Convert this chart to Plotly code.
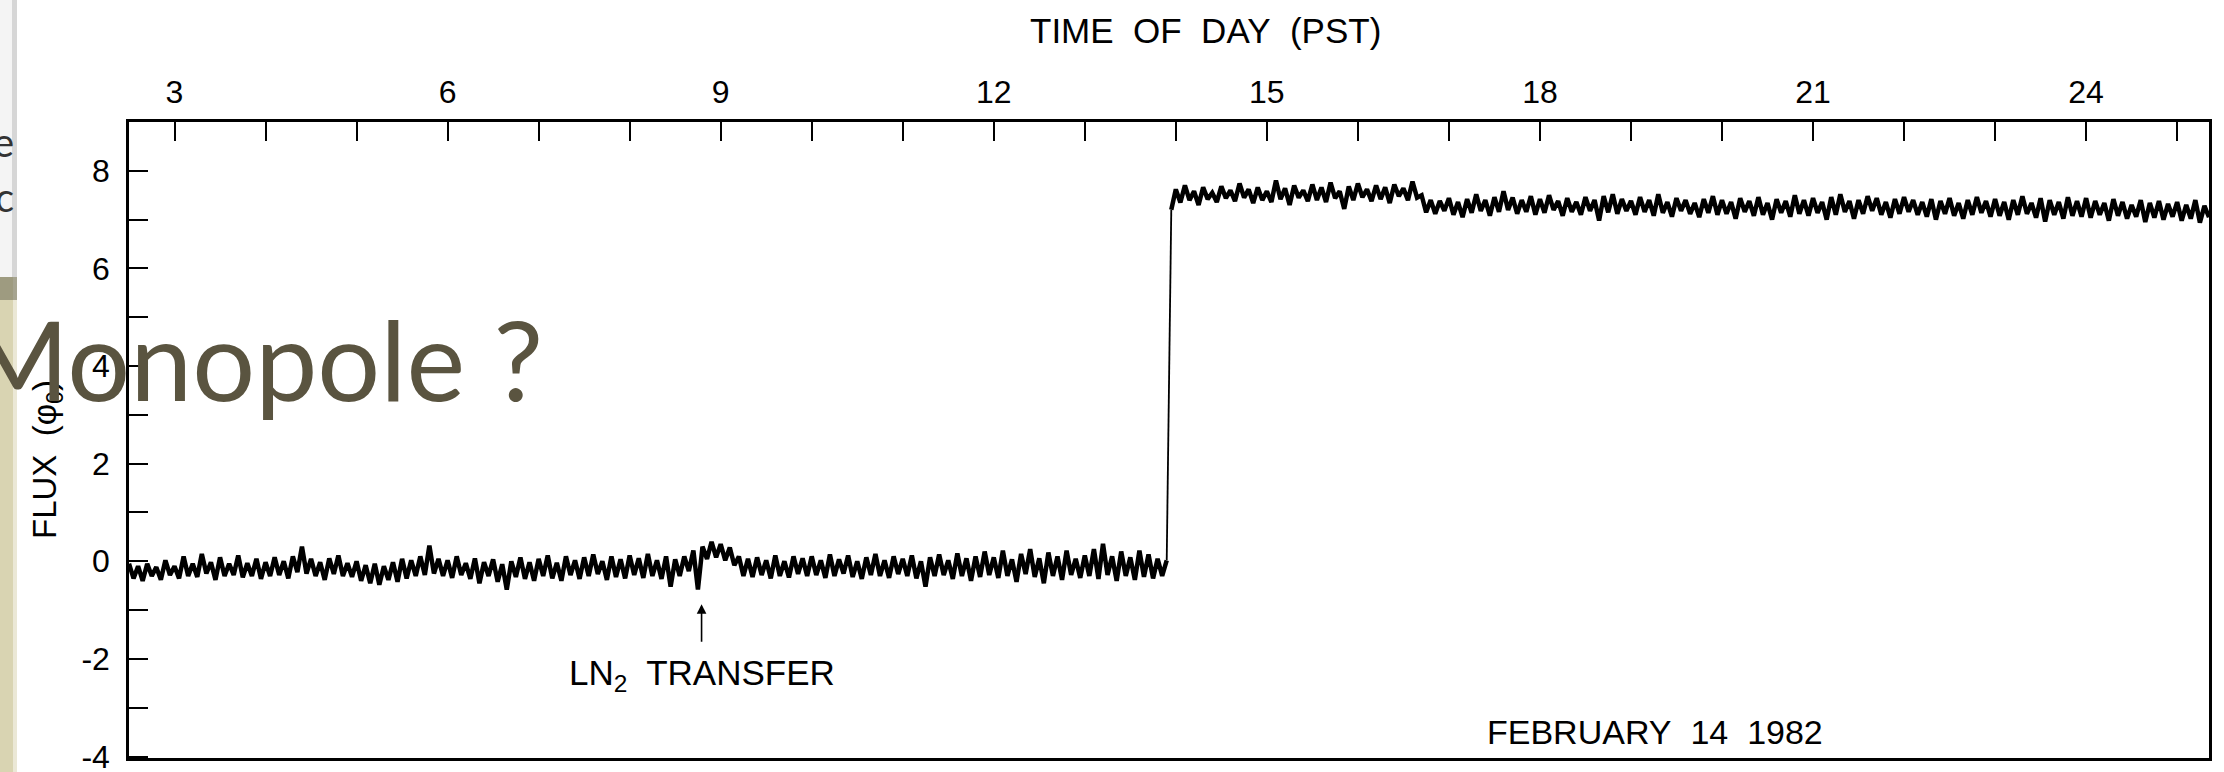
import plotly.graph_objects as go

# ---------------- data ----------------
# time grid (hours, PST) of the digitised trace, 0.05 h sampling
t_start_a, t_step, n_a = 2.50, 0.05, 229      # before the event
t_start_b, n_b = 13.95, 229                  # after the event
time_a = [round(t_start_a + i * t_step, 2) for i in range(n_a)]
time_b = [round(t_start_b + i * t_step, 2) for i in range(n_b)]

flux_a = [
    -0.05, -0.35, -0.10, -0.40, -0.05, -0.30, -0.12, -0.38, 0.02, -0.28,
    -0.10, -0.35, 0.10, -0.30, -0.05, -0.32, 0.15, -0.25, -0.02, -0.38, 0.08, -0.30, -0.05, -0.28, 0.12, -0.33, -0.04, -0.30, 0.05, -0.36,
    -0.02, -0.30, 0.08, -0.28, 0.00, -0.35, 0.10, -0.22, 0.30, -0.25, 0.05, -0.30, -0.02, -0.38, 0.06, -0.26, 0.12, -0.30, -0.04, -0.32,
    0.00, -0.40, -0.08, -0.45, -0.05, -0.48, -0.10, -0.38, -0.02, -0.42, 0.05, -0.35, 0.02, -0.30, 0.10, -0.28, 0.32, -0.25, 0.05, -0.30,
    0.02, -0.34, 0.10, -0.28, -0.04, -0.36, 0.06, -0.45, -0.02, -0.30, 0.04, -0.42, -0.06, -0.58, 0.00, -0.32, 0.08, -0.36, -0.02, -0.40,
    0.05, -0.30, 0.12, -0.35, -0.03, -0.40, 0.10, -0.28, 0.02, -0.36, 0.08, -0.30, 0.14, -0.26, 0.00, -0.38, 0.10, -0.32, 0.04, -0.35,
    0.12, -0.28, 0.06, -0.34, 0.15, -0.30, 0.02, -0.36, 0.10, -0.52, 0.04, -0.30, 0.10, -0.20, 0.22, -0.58, 0.30, 0.05, 0.40, 0.08,
    0.35, 0.02, 0.28, -0.08, 0.10, -0.30, 0.05, -0.32, 0.08, -0.28, 0.02, -0.35, 0.12, -0.30, 0.00, -0.33, 0.10, -0.26, 0.06, -0.30,
    0.10, -0.28, 0.02, -0.34, 0.14, -0.30, 0.04, -0.25, 0.12, -0.32, 0.00, -0.36, 0.08, -0.28, 0.15, -0.30, 0.02, -0.34, 0.10, -0.26,
    0.05, -0.30, 0.12, -0.35, 0.00, -0.52, 0.08, -0.30, 0.14, -0.28, 0.02, -0.36, 0.16, -0.30, 0.06, -0.40, 0.10, -0.32, 0.20, -0.28,
    0.08, -0.34, 0.22, -0.30, 0.04, -0.42, 0.15, -0.26, 0.25, -0.32, 0.06, -0.45, 0.18, -0.30, 0.10, -0.38, 0.22, -0.28, 0.05, -0.34,
    0.12, -0.30, 0.25, -0.36, 0.36, -0.28, 0.10, -0.40, 0.20, -0.30, 0.08, -0.38, 0.22, -0.32, 0.14, -0.35, 0.05, -0.30, 0.02,
]

flux_b = [
    7.20,
    7.62, 7.35, 7.70, 7.40, 7.58, 7.30, 7.66, 7.42, 7.55, 7.36, 7.68, 7.44, 7.60, 7.38, 7.74, 7.45, 7.62, 7.34, 7.66, 7.40,
    7.58, 7.36, 7.80, 7.42, 7.64, 7.30, 7.70, 7.45, 7.60, 7.38, 7.72, 7.40, 7.66, 7.36, 7.76, 7.44, 7.58, 7.22, 7.68, 7.40,
    7.74, 7.46, 7.62, 7.38, 7.70, 7.42, 7.66, 7.34, 7.72, 7.48, 7.64, 7.40, 7.78, 7.45, 7.50, 7.15, 7.40, 7.12, 7.38, 7.18,
    7.44, 7.10, 7.36, 7.05, 7.42, 7.14, 7.52, 7.18, 7.40, 7.08, 7.46, 7.16, 7.58, 7.20, 7.45, 7.12, 7.40, 7.16, 7.48, 7.10,
    7.42, 7.14, 7.50, 7.20, 7.38, 7.08, 7.44, 7.16, 7.36, 7.10, 7.46, 7.18, 7.40, 6.98, 7.48, 7.15, 7.52, 7.12, 7.42, 7.18,
    7.38, 7.10, 7.46, 7.16, 7.40, 7.08, 7.52, 7.14, 7.36, 7.06, 7.44, 7.18, 7.40, 7.12, 7.34, 7.05, 7.42, 7.14, 7.48, 7.10,
    7.40, 7.12, 7.36, 7.02, 7.44, 7.16, 7.38, 7.08, 7.46, 7.10, 7.34, 7.00, 7.42, 7.14, 7.38, 7.06, 7.50, 7.12, 7.40, 7.08,
    7.44, 7.14, 7.36, 7.00, 7.46, 7.10, 7.52, 7.16, 7.38, 7.02, 7.40, 7.12, 7.48, 7.18, 7.44, 7.10, 7.36, 7.04, 7.42, 7.12,
    7.46, 7.16, 7.40, 7.10, 7.36, 7.06, 7.42, 7.00, 7.38, 7.12, 7.44, 7.08, 7.34, 7.02, 7.40, 7.10, 7.46, 7.14, 7.38, 7.06,
    7.42, 7.08, 7.36, 7.00, 7.40, 7.10, 7.48, 7.12, 7.34, 7.04, 7.44, 6.96, 7.40, 7.10, 7.36, 7.02, 7.46, 7.08, 7.38, 7.06,
    7.44, 7.04, 7.38, 7.10, 7.34, 6.98, 7.42, 7.08, 7.36, 7.02, 7.30, 7.06, 7.40, 6.95, 7.34, 7.04, 7.38, 7.00, 7.32, 7.06,
    7.36, 6.98, 7.30, 7.02, 7.40, 6.94, 7.28, 7.05,
]

x_tickvals = [3, 6, 9, 12, 15, 18, 21, 24]
x_ticktext = ["3", "6", "9", "12", "15", "18", "21", "24"]
y_tickvals = [-4, -2, 0, 2, 4, 6, 8]
y_ticktext = ["-4", "-2", "0", "2", "4", "6", "8"]

ln2_time = 8.79          # LN2 transfer marker
date_label_time = 19.26

# ---------------- figure ----------------
W, H = 2224, 772
ML, MR, MT, MB = 129, 15, 122, 14
PW, PH = W - ML - MR, H - MT - MB


def px(x):
    return (x - ML) / PW


def py(y):
    return (H - MB - y) / PH


FONT = "Liberation Sans, Arial, sans-serif"

fig = go.Figure()
fig.add_trace(go.Scatter(
    x=time_a, y=flux_a, mode="lines",
    line=dict(color="black", width=4.5), hoverinfo="skip", showlegend=False))
fig.add_trace(go.Scatter(
    x=time_b, y=flux_b, mode="lines",
    line=dict(color="black", width=4.5), hoverinfo="skip", showlegend=False))
# the flux jump itself (thin pen stroke between the two records)
fig.add_trace(go.Scatter(
    x=[time_a[-1], time_b[0]], y=[flux_a[-1], flux_b[0]], mode="lines",
    line=dict(color="black", width=1.8), hoverinfo="skip", showlegend=False))

axis_common = dict(
    showline=True, linecolor="black", linewidth=2.5, mirror=True,
    ticks="inside", ticklen=19, tickwidth=1.6, tickcolor="black",
    showgrid=False, zeroline=False, automargin=False,
    ticklabeloverflow="allow",
    tickfont=dict(family=FONT, size=32, color="black"),
)

fig.update_layout(
    width=W, height=H, template="none",
    margin=dict(l=ML, r=MR, t=MT, b=MB, pad=0),
    paper_bgcolor="white", plot_bgcolor="white",
    xaxis=dict(range=[2.50, 25.35], side="top", tickvals=x_tickvals,
               ticktext=x_ticktext, ticklabelstandoff=3,
               minor=dict(dtick=1, tick0=0, ticks="inside", ticklen=19,
                          tickwidth=1.6, tickcolor="black", showgrid=False),
               **axis_common),
    yaxis=dict(range=[-4.03, 9.0], tickvals=y_tickvals, ticktext=y_ticktext,
               ticklabelstandoff=10,
               minor=dict(dtick=1, tick0=0, ticks="inside", ticklen=19,
                          tickwidth=1.6, tickcolor="black", showgrid=False),
               **axis_common),
)

# slide background remnants at the far left
fig.add_shape(type="rect", xref="paper", yref="paper", x0=px(0), x1=px(13),
              y0=py(0), y1=py(277), fillcolor="#f4f4f4", line_width=0, layer="above")
fig.add_shape(type="rect", xref="paper", yref="paper", x0=px(12), x1=px(17),
              y0=py(0), y1=py(277), fillcolor="#d6d6d6", line_width=0, layer="above")
fig.add_shape(type="rect", xref="paper", yref="paper", x0=px(0), x1=px(14),
              y0=py(772), y1=py(277), fillcolor="#d9d4b2", line_width=0, layer="above")
fig.add_shape(type="rect", xref="paper", yref="paper", x0=px(13), x1=px(17),
              y0=py(772), y1=py(277), fillcolor="#ebe8d6", line_width=0, layer="above")
fig.add_shape(type="rect", xref="paper", yref="paper", x0=px(0), x1=px(17),
              y0=py(300), y1=py(277), fillcolor="#6e6b58", opacity=0.55,
              line_width=0, layer="above")

annotations = [
    dict(text="TIME\u00a0 OF\u00a0 DAY\u00a0 (PST)", xref="paper", yref="paper",
         x=px(1205), y=py(31), xanchor="center", yanchor="middle", showarrow=False,
         font=dict(family=FONT, size=35, color="black")),
    dict(text="FLUX\u00a0 (\u03c6<sub>0</sub>)", xref="paper", yref="paper",
         x=px(47), y=py(460), xanchor="center", yanchor="middle", textangle=-90,
         showarrow=False, font=dict(family=FONT, size=33, color="black")),
    dict(text="LN<sub>2</sub>\u00a0 TRANSFER", xref="x", yref="y",
         x=ln2_time, y=-2.33, xanchor="center", yanchor="middle", showarrow=False,
         font=dict(family=FONT, size=35, color="black")),
    dict(text="", xref="x", yref="y", x=ln2_time, y=-0.88, axref="x", ayref="y",
         ax=ln2_time, ay=-1.68, showarrow=True, arrowhead=2, arrowsize=1.2,
         arrowwidth=1.6, arrowcolor="black"),
    dict(text="FEBRUARY\u00a0 14\u00a0 1982", xref="x", yref="y",
         x=date_label_time, y=-3.5, xanchor="center", yanchor="middle",
         showarrow=False, font=dict(family=FONT, size=34, color="black")),
    dict(text="e", xref="paper", yref="paper", x=px(16), y=py(142),
         xanchor="right", yanchor="middle", showarrow=False,
         font=dict(family="Lato, sans-serif", size=40, color="#333333")),
    dict(text="c", xref="paper", yref="paper", x=px(16), y=py(197),
         xanchor="right", yanchor="middle", showarrow=False,
         font=dict(family="Lato, sans-serif", size=40, color="#333333")),
    dict(text="Monopole ?", xref="paper", yref="paper", x=px(545), y=py(358),
         xanchor="right", yanchor="middle", showarrow=False,
         font=dict(family="Lato, sans-serif", size=111, color="#5a5440")),
]
fig.update_layout(annotations=annotations)

fig.write_html("out.html", config={"displayModeBar": False},
               post_script="document.body.style.margin='0';document.body.style.overflow='hidden';")
